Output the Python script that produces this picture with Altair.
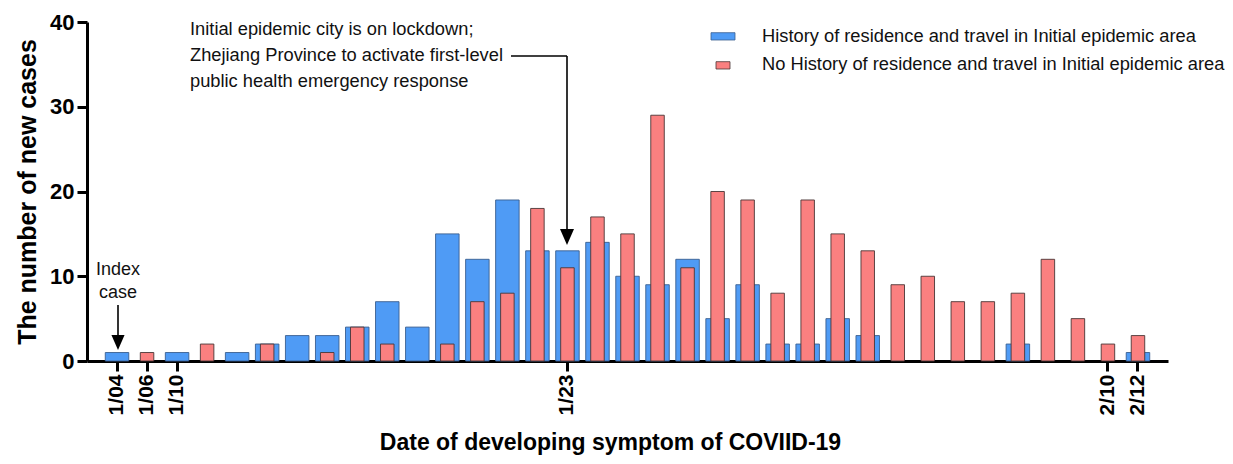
import altair as alt
import pandas as pd

# Categories (symptom-onset dates; days without cases before 1/10 and 2/11 are absent)
dates = ["1/04", "1/06", "1/10", "1/11", "1/12", "1/13", "1/14", "1/15", "1/16", "1/17",
         "1/18", "1/19", "1/20", "1/21", "1/22", "1/23", "1/24", "1/25", "1/26", "1/27",
         "1/28", "1/29", "1/30", "1/31", "2/01", "2/02", "2/03", "2/04", "2/05", "2/06",
         "2/07", "2/08", "2/09", "2/10", "2/12"]
tick_labels = ["1/04", "1/06", "1/10", "1/23", "2/10", "2/12"]

series_names = ["History of residence and travel in Initial epidemic area",
                "No History of residence and travel in Initial epidemic area"]
with_history = [1, 0, 1, 0, 1, 2, 3, 3, 4, 7, 4, 15, 12, 19, 13, 13, 14, 10, 9, 12,
                5, 9, 2, 2, 5, 3, 0, 0, 0, 0, 2, 0, 0, 0, 1]
no_history = [0, 1, 0, 2, 0, 2, 0, 1, 4, 2, 0, 2, 7, 8, 18, 11, 17, 15, 29, 11,
              20, 19, 8, 19, 15, 13, 9, 10, 7, 7, 8, 12, 5, 2, 3]

y_ticks = [0, 10, 20, 30, 40]

BLUE = "#4f9bf5"
RED = "#fa8080"
FONT = "Liberation Sans"

rows = []
for d, a, b in zip(dates, with_history, no_history):
    rows.append({"date": d, "group": series_names[0], "count": a})
    rows.append({"date": d, "group": series_names[1], "count": b})
df = pd.DataFrame(rows)

W, H = 1081, 339

x_enc = alt.X(
    "date:N", sort=dates,
    scale=alt.Scale(domain=dates, paddingInner=0, paddingOuter=0.5),
    axis=alt.Axis(values=tick_labels, labelAngle=-90, title="Date of developing symptom of COVIID-19",
                  titleX=523, titleAnchor="middle", titleAlign="center"),
)
y_enc = alt.Y(
    "count:Q", scale=alt.Scale(domain=[0, 40], nice=False),
    axis=alt.Axis(values=y_ticks, title="The number of new cases"),
)

base = alt.Chart(df)
blue_bars = base.transform_filter(
    (alt.datum.group == series_names[0]) & (alt.datum["count"] > 0)
).mark_bar(width=23.5, color=BLUE, stroke="#3a5f90", strokeWidth=0.9).encode(x=x_enc, y=y_enc)
red_bars = base.transform_filter(
    (alt.datum.group == series_names[1]) & (alt.datum["count"] > 0)
).mark_bar(width=13.5, color=RED, stroke="#4a3535", strokeWidth=0.9).encode(x=x_enc, y=y_enc)

one = pd.DataFrame({"k": [0]})


def rule(x1, y1, x2, y2, w=1.6):
    return alt.Chart(one).mark_rule(color="black", strokeWidth=w).encode(
        x=alt.value(x1), y=alt.value(y1), x2=alt.value(x2), y2=alt.value(y2))


def head(x, y, size):
    return alt.Chart(one).mark_point(
        shape="M-0.875,-1L0.875,-1L0,1Z", filled=True, color="black", opacity=1, size=size,
        strokeWidth=0).encode(x=alt.value(x), y=alt.value(y))


def text(s, x, y, align="left", size=18.3):
    return alt.Chart(one).mark_text(
        text=s, align=align, baseline="middle", font=FONT, fontSize=size, color="#111").encode(
        x=alt.value(x), y=alt.value(y))


def rect(x1, x2, y1, y2, fill, stroke):
    return alt.Chart(one).mark_rect(color=fill, stroke=stroke, strokeWidth=0.8).encode(
        x=alt.value(x1), x2=alt.value(x2), y=alt.value(y1), y2=alt.value(y2))


annots = [
    # lockdown annotation
    text("Initial epidemic city is on lockdown;", 103, 8),
    text("Zhejiang Province to activate first-level", 103, 34),
    text("public health emergency response", 103, 59.5),
    rule(424, 34, 480, 34),
    rule(480, 34, 480, 208),
    head(480, 215, 256),
    # index case
    text("Index", 31, 248, align="center", size=18),
    text("case", 31, 271, align="center", size=18),
    rule(31, 283, 31, 314),
    head(31, 320.5, 225),
    # legend
    rect(624, 648, 10.7, 18, BLUE, "#3a5f90"),
    rect(629, 643, 39.7, 47, RED, "#4a3535"),
    text(series_names[0], 675, 15),
    text(series_names[1], 675, 43),
]

chart = alt.layer(blue_bars, red_bars, *annots).properties(
    width=W, height=H,
    autosize=alt.AutoSizeParams(type="none"),
    padding={"left": 79, "top": 14, "right": 57, "bottom": 95},
).configure_view(stroke=None).configure_axis(
    grid=False,
    domainColor="black", domainWidth=3,
    tickColor="black", tickWidth=3, tickSize=10,
    labelFont=FONT, labelFontSize=22, labelFontWeight="bold", labelColor="black", labelPadding=3,
    titleFont=FONT, titleFontWeight="bold", titleColor="black",
).configure_axisY(titlePadding=9, titleFontSize=25).configure_axisX(
    titlePadding=17, labelFontSize=21, titleFontSize=23)

chart.save("out.html", embed_options={"renderer": "svg", "actions": False})
